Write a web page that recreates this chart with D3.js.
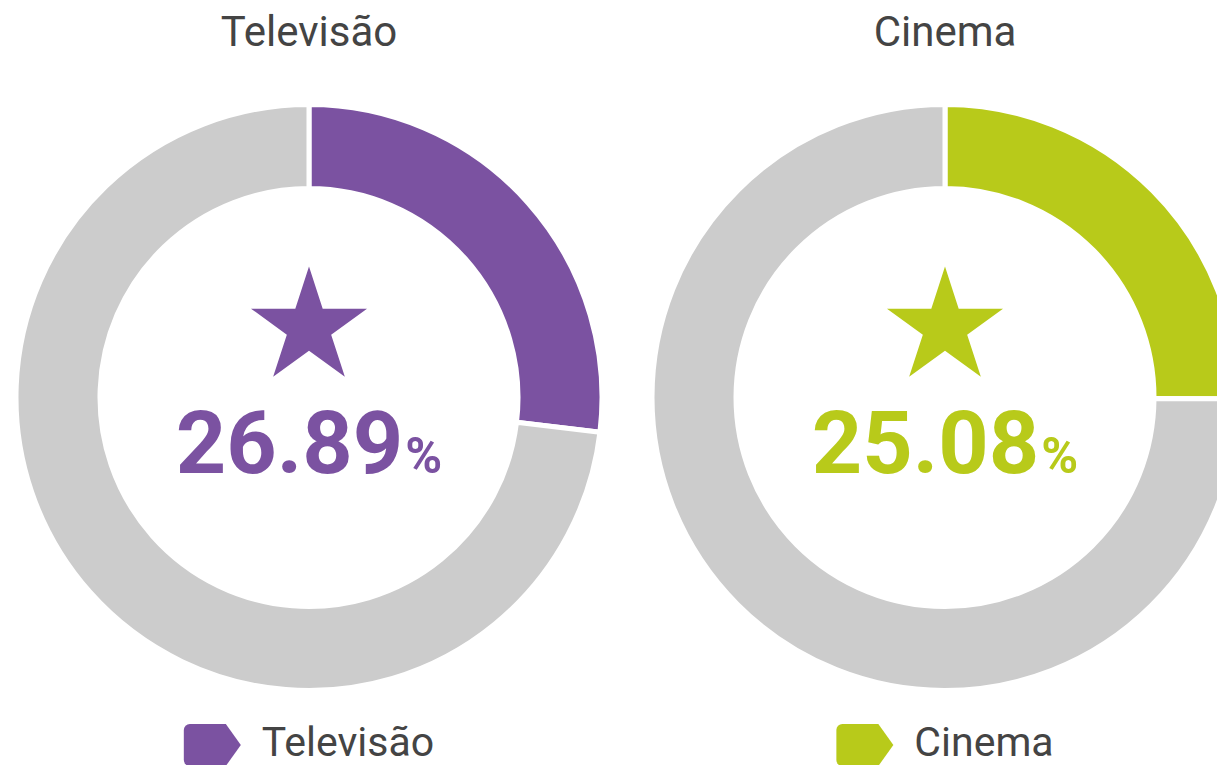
<!DOCTYPE html>
<html>
<head>
<meta charset="utf-8">
<script src="https://cdn.jsdelivr.net/npm/d3@7"></script>
<style>
  body { margin: 0; background: #fff; }
  svg { display: block; font-family: Roboto, "Noto Sans", sans-serif; }
</style>
</head>
<body>
<svg id="chart" width="1217" height="765"></svg>
<script>
// chart data
var categories = ['Televisão', 'Cinema'];
var percentValues = [26.89, 25.08];
var seriesColors = ['#7b52a1', '#b8ca1a'];
var restColor = '#cccccc';

var width = 1217, height = 765;
var svg = d3.select('#chart');

// one band per donut
var x = d3.scaleBand().domain(categories).range([-9, 1263]);
var cy = 397.5;
var outerR = 293, innerR = 209;

var pie = d3.pie().sort(null).value(function(d) { return d; });
var arc = d3.arc().innerRadius(innerR).outerRadius(outerR);

// star inside each donut (outer radius 61)
var star = d3.symbol().type(d3.symbolStar).size(61 * 61 / 0.8908130915292852);

// legend tag shape: rounded left side, pointed right side
function tagPath(w, h, r, tip) {
    var p = d3.path();
    p.moveTo(r, 0);
    p.lineTo(w - tip, 0);
    p.lineTo(w, h / 2);
    p.lineTo(w - tip, h);
    p.lineTo(r, h);
    p.arcTo(0, h, 0, h - r, r);
    p.lineTo(0, r);
    p.arcTo(0, 0, r, 0, r);
    p.closePath();
    return p.toString();
}

categories.forEach(function(name, i) {
    var cx = x(name) + x.bandwidth() / 2;
    var value = percentValues[i];
    var color = seriesColors[i];

    var g = svg.append('g').attr('transform', 'translate(' + cx + ',' + cy + ')');

    g.selectAll('path.slice')
        .data(pie([value, 100 - value]))
        .enter()
        .append('path')
        .attr('class', 'slice')
        .attr('d', arc)
        .attr('fill', function(d, j) { return j === 0 ? color : restColor; })
        .attr('stroke', '#fff')
        .attr('stroke-width', 5);

    g.append('path')
        .attr('d', star())
        .attr('transform', 'translate(0,-70)')
        .attr('fill', color);

    var num = g.append('text')
        .attr('y', 75)
        .attr('text-anchor', 'middle')
        .attr('fill', color)
        .attr('font-weight', 'bold');
    num.append('tspan').attr('font-size', 88).text(value.toFixed(2));
    num.append('tspan').attr('font-size', 50).attr('dx', 2).text('%');

    // title
    svg.append('text')
        .attr('x', cx)
        .attr('y', 46)
        .attr('text-anchor', 'middle')
        .attr('font-size', 42)
        .attr('fill', '#444')
        .text(name);

    // legend
    var lg = svg.append('g');
    lg.append('path')
        .attr('d', tagPath(57, 42, 6, 15))
        .attr('fill', color);
    var lt = lg.append('text')
        .attr('x', 78)
        .attr('y', 32)
        .attr('font-size', 41)
        .attr('fill', '#444')
        .text(name);
    var bw = 78 + lt.node().getComputedTextLength();
    lg.attr('transform', 'translate(' + (cx - bw / 2) + ',724)');
});
</script>
</body>
</html>
